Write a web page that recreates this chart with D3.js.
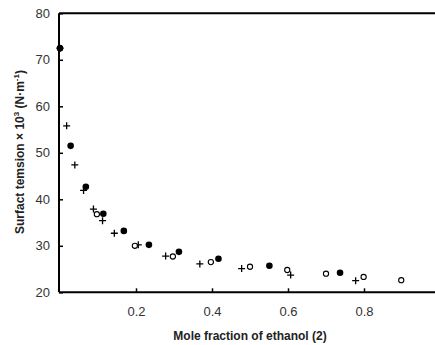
<!DOCTYPE html>
<html><head><meta charset="utf-8">
<script src="https://cdn.jsdelivr.net/npm/d3@7"></script>
<style>body{margin:0;background:#fff}svg{display:block}</style>
</head><body>
<script>
// Data
const filledX = [0, 0.028, 0.068, 0.114, 0.168, 0.234, 0.313, 0.417, 0.551, 0.737];
const filledY = [72.5, 51.5, 42.7, 36.9, 33.2, 30.2, 28.7, 27.2, 25.7, 24.2];
const openX = [0, 0.097, 0.197, 0.297, 0.397, 0.5, 0.598, 0.7, 0.799, 0.898];
const openY = [72.5, 36.8, 30.0, 27.7, 26.5, 25.5, 24.8, 24.0, 23.3, 22.6];
const plusX = [0, 0.0175, 0.039, 0.062, 0.088, 0.112, 0.143, 0.206, 0.278, 0.368, 0.478, 0.607, 0.778];
const plusY = [72.5, 55.8, 47.4, 41.9, 37.9, 35.4, 32.7, 30.2, 27.8, 26.1, 25.1, 23.7, 22.5];
const xTicks = [0.2, 0.4, 0.6, 0.8];
const yTicks = [20, 30, 40, 50, 60, 70, 80];
const xTitle = "Mole fraction of ethanol (2)";

const W = 435, H = 345;
const svg = d3.select("body").append("svg").attr("width", W).attr("height", H);
const x = d3.scaleLinear().domain([0, 1]).range([60, 440]);
const y = d3.scaleLinear().domain([20, 80]).range([292.3, 13.3]);

const font = "Liberation Sans, Arial, sans-serif";

// axes
const xAxis = d3.axisBottom(x).tickValues(xTicks).tickSizeInner(-4).tickSizeOuter(0).tickPadding(14)
  .tickFormat(d3.format(".1f"));
const gx = svg.append("g").attr("transform", `translate(0,${y(20)})`).call(xAxis);
gx.select(".domain").remove();
gx.selectAll(".tick line").attr("stroke", "#000").attr("stroke-width", 1.5);
gx.selectAll("text").attr("font-family", font).attr("font-size", 13).attr("fill", "#333");

const yAxis = d3.axisLeft(y).tickValues(yTicks).tickSizeInner(-4).tickSizeOuter(0).tickPadding(9);
const gy = svg.append("g").attr("transform", `translate(${x(0) - 1},0)`).call(yAxis);
gy.select(".domain").remove();
gy.selectAll(".tick line").attr("stroke", "#000").attr("stroke-width", 1.5);
gy.selectAll("text").attr("font-family", font).attr("font-size", 13).attr("fill", "#333");

// frame lines
svg.append("line").attr("x1", x(0) - 1).attr("x2", W).attr("y1", y(20)).attr("y2", y(20))
  .attr("stroke", "#000").attr("stroke-width", 2);
svg.append("line").attr("x1", x(0) - 1).attr("x2", x(0) - 1).attr("y1", y(80)).attr("y2", y(20))
  .attr("stroke", "#000").attr("stroke-width", 2);
svg.append("line").attr("x1", x(0) - 1).attr("x2", W).attr("y1", y(80)).attr("y2", y(80))
  .attr("stroke", "#000").attr("stroke-width", 2);

// series
const plusPath = d3.symbol().type(d3.symbolCross);
svg.append("g").selectAll("path").data(plusX.map((v, i) => [v, plusY[i]])).join("path")
  .attr("d", "M-3.5,0H3.5M0,-3.5V3.5")
  .attr("transform", d => `translate(${x(d[0])},${y(d[1])})`)
  .attr("stroke", "#000").attr("stroke-width", 1.3).attr("fill", "none");
svg.append("g").selectAll("circle").data(openX.map((v, i) => [v, openY[i]])).join("circle")
  .attr("cx", d => x(d[0])).attr("cy", d => y(d[1])).attr("r", 2.6)
  .attr("fill", "#fff").attr("stroke", "#000").attr("stroke-width", 1.1);
svg.append("g").selectAll("circle").data(filledX.map((v, i) => [v, filledY[i]])).join("circle")
  .attr("cx", d => x(d[0])).attr("cy", d => y(d[1])).attr("r", 3.3)
  .attr("fill", "#000");

// titles
svg.append("text").attr("x", 250).attr("y", 340).attr("text-anchor", "middle")
  .attr("font-family", font).attr("font-size", 12).attr("font-weight", "bold").attr("fill", "#222")
  .text(xTitle);
const yt = svg.append("text").attr("transform", "translate(24,152) rotate(-90)").attr("text-anchor", "middle")
  .attr("font-family", font).attr("font-size", 12).attr("font-weight", "bold").attr("fill", "#222");
yt.append("tspan").text("Surfact temsion × 10");
yt.append("tspan").attr("dy", -5).attr("font-size", 8).text("3");
yt.append("tspan").attr("dy", 5).text(" (N·m");
yt.append("tspan").attr("dy", -5).attr("font-size", 8).text("-1");
yt.append("tspan").attr("dy", 5).text(")");
</script>
</body></html>
